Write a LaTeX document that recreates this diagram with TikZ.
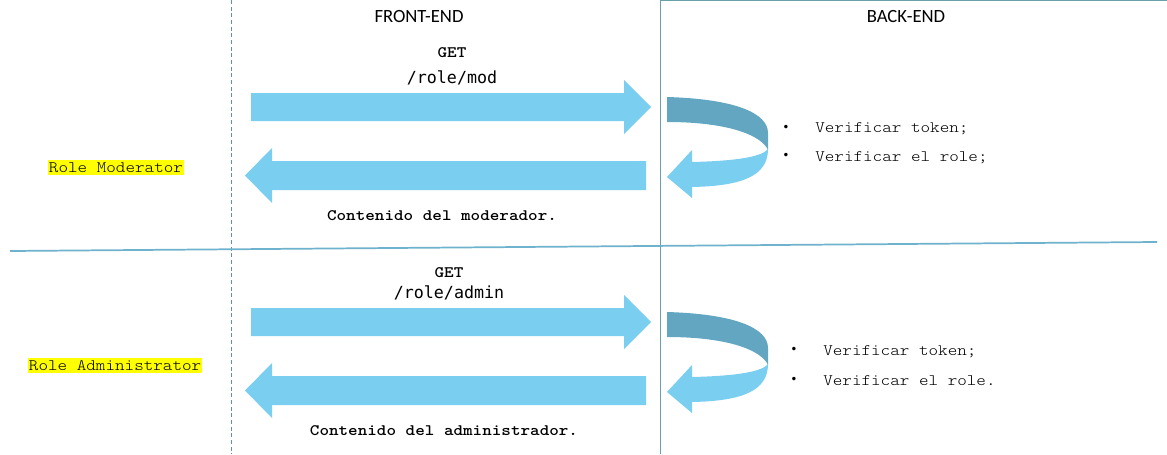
\documentclass[tikz,border=0pt]{standalone}
\usepackage{fontspec}
\setmainfont{Liberation Serif}
\newfontfamily\cour[FakeStretch=1.14]{Latin Modern Mono Light}
\newfontfamily\consl{DejaVu Sans Mono}
\newfontfamily\calib{Carlito}
\definecolor{arrlight}{RGB}{122,206,239}
\definecolor{arrdark}{RGB}{98,166,194}
\definecolor{lineteal}{RGB}{105,160,170}
\definecolor{dashteal}{RGB}{100,145,160}
\definecolor{divline}{RGB}{110,178,205}
\definecolor{hl}{RGB}{255,255,0}
\tikzset{
  lightfill/.style={fill=arrlight,draw=none},
  darkfill/.style={fill=arrdark,draw=none},
  hdr/.style={font=\calib\fontsize{14}{16}\selectfont,anchor=base,inner sep=0},
  mono/.style={font=\cour\fontsize{12}{14}\selectfont,anchor=base,inner sep=0},
  monob/.style={font=\cour\bfseries\fontsize{12}{14}\selectfont,anchor=base,inner sep=0},
  path/.style={font=\consl\fontsize{12.5}{14}\selectfont,anchor=base,inner sep=0},
  role/.style={font=\cour\fontsize{12}{14}\selectfont,fill=hl,inner xsep=0.5pt,inner ysep=2pt,anchor=base west},
  bul/.style={font=\consl\fontsize{9}{14}\selectfont,anchor=base,inner sep=0},
  item/.style={font=\cour\fontsize{12}{14}\selectfont,anchor=base west,inner sep=0}
}
\begin{document}
\begin{tikzpicture}[x=0.75pt,y=-0.75pt]
\useasboundingbox (0,0) rectangle (1167,454);
% frame lines
\coordinate (dtop) at (231,0); \coordinate (dbot) at (231,454);
\draw[dashteal,dashed,line width=0.75pt,dash pattern=on 3pt off 2pt] (dtop) -- (dbot);
\coordinate (vtop) at (660.5,0.8); \coordinate (vbot) at (660.5,454); \coordinate (htop) at (1167,0.8);
\draw[lineteal,line width=0.9pt] (vbot) -- (vtop) -- (htop);
\coordinate (divl) at (10,251); \coordinate (divr) at (1157,242);
\draw[divline,line width=1.3pt] (divl) -- (divr);
% headers
\node[hdr] (fe) at (419,22) {FRONT-END};
\node[hdr] (be) at (906,22) {BACK-END};
% rows
\foreach \dy in {0,215}{
\begin{scope}[shift={(0,\dy)}]
  \path[lightfill] (251,93) -- (624,93) -- (624,80) -- (651,107) -- (624,134) -- (624,121) -- (251,121) -- cycle;
  \path[lightfill] (646,161) -- (272,161) -- (272,148) -- (245,175.5) -- (272,203) -- (272,190) -- (646,190) -- cycle;
  \path[darkfill] (667,97) .. controls (735,99) and (768,113) .. (768,133) -- (768,150) .. controls (762,136) and (730,122) .. (667,122) -- cycle;
  \path[lightfill] (768,149) .. controls (768,176) and (742,186) .. (692,187) -- (692,198) -- (667,177) -- (692,150) -- (692,162) .. controls (735,161) and (762,157) .. (768,149) -- cycle;
\end{scope}
}
% text row 1
\node[monob] (get1) at (452,57.7) {GET};
\node[path] (url1) at (452,83) {/role/mod};
\node[monob] (cont1) at (442,220) {Contenido del moderador.};
\node[role] (role1) at (48,172.3) {Role Moderator};
\node[bul] (b11) at (786,131) {•};
\node[item] (t11) at (815,132.5) {Verificar token;};
\node[bul] (b12) at (786,159.5) {•};
\node[item] (t12) at (815,161) {Verificar el role;};
% text row 2
\node[monob] (get2) at (449,277.5) {GET};
\node[path] (url2) at (449,298) {/role/admin};
\node[monob] (cont2) at (444,435) {Contenido del administrador.};
\node[role] (role2) at (28,370.6) {Role Administrator};
\node[bul] (b21) at (794,353.5) {•};
\node[item] (t21) at (823,355) {Verificar token;};
\node[bul] (b22) at (794,383.5) {•};
\node[item] (t22) at (823,385) {Verificar el role.};
\end{tikzpicture}
\end{document}
